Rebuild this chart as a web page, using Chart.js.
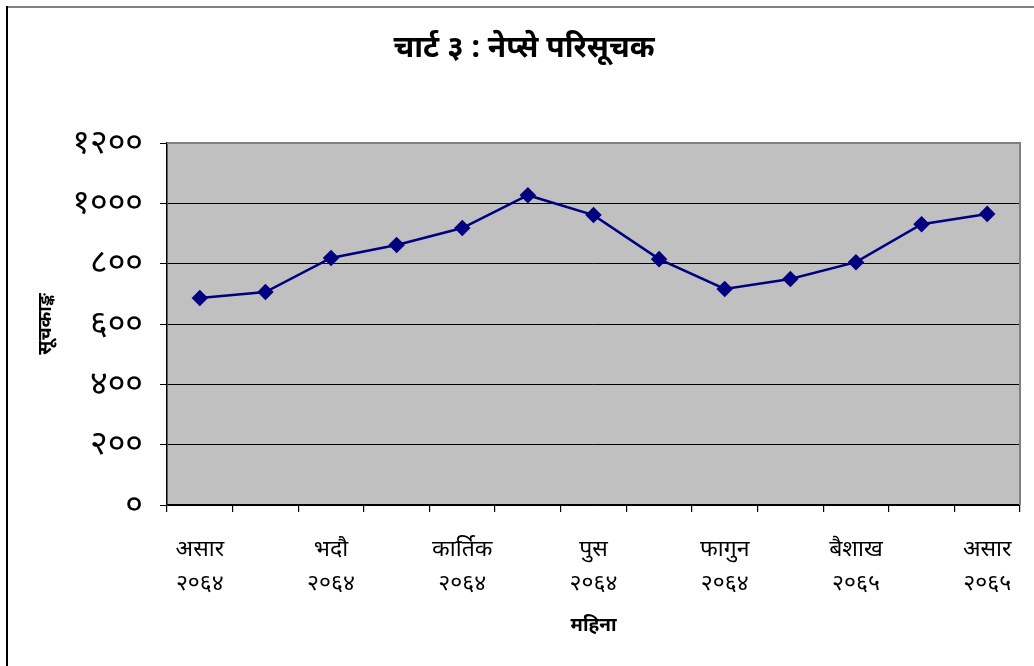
<!DOCTYPE html>
<html>
<head>
<meta charset="utf-8">
<script src="https://cdn.jsdelivr.net/npm/chart.js@4"></script>
<style>
html,body{margin:0;padding:0;background:#fff;}
#wrap{width:1034px;height:666px;position:relative;}
</style>
</head>
<body>
<div id="wrap"><canvas id="c" width="1034" height="666"></canvas></div>
<script>
const months = ['असार','साउन','भदौ','असोज','कार्तिक','मंसिर','पुस','माघ','फागुन','चैत','बैशाख','जेठ','असार'];
const years = ['२०६४','२०६४','२०६४','२०६४','२०६४','२०६४','२०६४','२०६४','२०६४','२०६४','२०६५','२०६५','२०६५'];
const nepseIndex = [686, 706, 819, 862, 918, 1027, 961, 815, 716, 749, 805, 931, 965];
const yTicks = [0, 200, 400, 600, 800, 1000, 1200];

const devDigits = ['०','१','२','३','४','५','६','७','८','९'];
function toDev(n){ return String(n).replace(/[0-9]/g, d => devDigits[+d]); }

const FONT = "'Noto Sans', 'Noto Sans Devanagari', sans-serif";

const decor = {
  id: 'decor',
  beforeDraw(chart){
    const ctx = chart.ctx, a = chart.chartArea;
    ctx.save();
    ctx.fillStyle = '#fff';
    ctx.fillRect(0,0,chart.width,chart.height);
    ctx.fillStyle = '#C0C0C0';
    ctx.fillRect(a.left, a.top, a.right - a.left, a.bottom - a.top);
    ctx.lineWidth = 2;
    ctx.strokeStyle = '#808080';
    ctx.beginPath(); ctx.moveTo(6, 7); ctx.lineTo(chart.width, 7); ctx.stroke();
    ctx.strokeStyle = '#000';
    ctx.beginPath(); ctx.moveTo(7, 6); ctx.lineTo(7, chart.height); ctx.stroke();
    ctx.restore();
  },
  beforeDatasetsDraw(chart){
    const ctx = chart.ctx, a = chart.chartArea;
    ctx.save();
    ctx.strokeStyle = '#808080';
    ctx.lineWidth = 2;
    ctx.beginPath();
    ctx.moveTo(a.left, a.top);
    ctx.lineTo(a.right, a.top);
    ctx.lineTo(a.right, a.bottom);
    ctx.stroke();
    ctx.restore();
  }
};

new Chart(document.getElementById('c'), {
  type: 'line',
  data: {
    labels: months,
    datasets: [{
      label: 'नेप्से परिसूचक',
      data: nepseIndex,
      borderColor: '#000080',
      backgroundColor: '#000080',
      borderWidth: 2.5,
      pointStyle: 'rectRot',
      pointRadius: 6.5,
      pointHoverRadius: 6.5,
      pointBackgroundColor: '#000080',
      pointBorderColor: '#000080',
      tension: 0,
      fill: false
    }]
  },
  options: {
    responsive: false,
    animation: false,
    devicePixelRatio: 1,
    layout: { padding: { left: 28, right: 14, top: 0, bottom: 0 } },
    plugins: {
      legend: { display: false },
      tooltip: { enabled: false },
      title: {
        display: true,
        text: 'चार्ट ३ : नेप्से परिसूचक',
        color: '#000',
        font: { family: FONT, size: 30, weight: 'bold', lineHeight: 1.2 },
        padding: { top: 30, bottom: 77 }
      }
    },
    scales: {
      x: {
        type: 'category',
        offset: true,
        border: { display: true, color: '#000', width: 1.5 },
        grid: { display: true, offset: true, drawOnChartArea: false, drawTicks: true, tickLength: 7, color: '#000', lineWidth: 1.2 },
        ticks: {
          autoSkip: false, maxRotation: 0, minRotation: 0,
          color: '#000',
          padding: 20,
          font: { family: FONT, size: 23, lineHeight: 1.5 },
          callback: function(v, i){ return i % 2 === 0 ? [months[i], years[i]] : ''; }
        },
        title: {
          display: true, text: 'महिना', color: '#000',
          font: { family: FONT, size: 19, weight: 'bold', lineHeight: 1.2 },
          padding: { top: 29, bottom: 29 }
        },
        afterFit(scale){ scale.height = 161; }
      },
      y: {
        min: 0, max: 1200,
        border: { display: true, color: '#000', width: 1.5 },
        grid: { color: '#000', lineWidth: 1, tickLength: 7, drawTicks: true },
        afterBuildTicks(scale){ scale.ticks = yTicks.map(v => ({ value: v })); },
        ticks: {
          color: '#000',
          padding: 17,
          font: { family: FONT, size: 34 },
          callback: v => toDev(v)
        },
        title: {
          display: true, text: 'सूचकाङ्क', color: '#000',
          font: { family: FONT, size: 19, weight: 'bold', lineHeight: 1.2 },
          padding: { top: 6, bottom: 6 }
        },
        afterFit(scale){ scale.width = 139; }
      }
    }
  },
  plugins: [decor]
});
</script>
</body>
</html>
